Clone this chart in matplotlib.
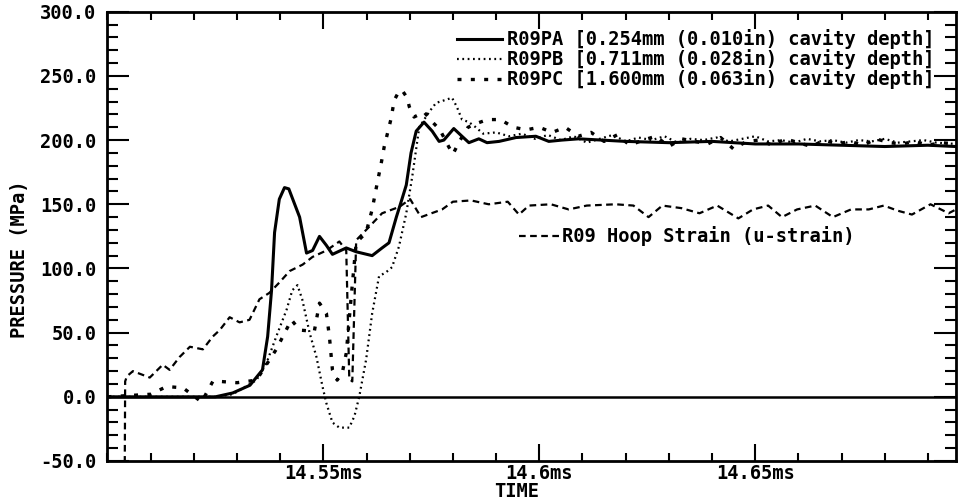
import matplotlib
matplotlib.use("Agg")
import matplotlib.pyplot as plt
from matplotlib.ticker import FixedLocator, MultipleLocator, FuncFormatter

# ---------------- data (time in ms, pressure in MPa) ----------------
pa_t = [14.500, 14.525, 14.529, 14.533, 14.5359, 14.5371, 14.5380, 14.5387, 14.5398,
        14.5410, 14.5420, 14.5445, 14.5461, 14.5475, 14.5491, 14.5507, 14.5521,
        14.5553, 14.5576, 14.5613, 14.5636, 14.5652, 14.5669, 14.5682, 14.5692,
        14.5703, 14.5715, 14.5733, 14.5752, 14.5768, 14.5779, 14.5802, 14.5821,
        14.5837, 14.5860, 14.5879, 14.5907, 14.5946, 14.5992, 14.6022, 14.6052,
        14.6091, 14.620, 14.630, 14.640, 14.650, 14.660, 14.670, 14.680, 14.690, 14.6965]
pa_v = [0, 0, 3, 9, 21, 47, 83, 128, 154,
        163, 162, 140, 112, 114, 125, 118, 111,
        116, 113, 110, 116, 120, 140, 154, 165,
        190, 207, 214, 207, 199, 200, 209, 203,
        198, 201, 198, 199, 202, 203, 199, 200,
        201, 199, 198, 199, 197, 197, 196, 195, 196, 195]

pb_t = [14.500, 14.525, 14.529, 14.5345, 14.5368, 14.5391, 14.5415, 14.5428, 14.5440,
        14.5451, 14.5468, 14.5484, 14.5498, 14.5507, 14.5521, 14.5537, 14.5560,
        14.5572, 14.5583, 14.5599, 14.5613, 14.5629, 14.5645, 14.5659, 14.5675,
        14.5692, 14.5706, 14.5722, 14.5745, 14.5761, 14.5780, 14.5798, 14.5809,
        14.5821, 14.5837, 14.5853, 14.5870, 14.5900, 14.5930, 14.5960, 14.5990,
        14.6020, 14.6050, 14.6080, 14.6110, 14.6140, 14.6170, 14.6200, 14.6230,
        14.6260, 14.6290, 14.6320, 14.6350, 14.6380, 14.6410, 14.6440, 14.6470,
        14.6500, 14.6530, 14.6560, 14.6590, 14.6620, 14.6650, 14.6680, 14.6710,
        14.6740, 14.6770, 14.6800, 14.6830, 14.6860, 14.6890, 14.6920, 14.6965]
pb_v = [0, 0, 2, 13, 26, 47, 68, 83, 87,
        76, 50, 31, 8, -5, -20, -24, -24,
        -15, 0, 29, 65, 94, 97, 101, 117,
        143, 172, 210, 222, 229, 231, 233, 226,
        216, 214, 210, 205, 206, 203, 205, 201,
        204, 200, 203, 198, 201, 204, 199, 202,
        200, 203, 198, 201, 200, 202, 199, 201,
        203, 199, 200, 198, 201, 199, 200, 198,
        200, 199, 201, 198, 199, 200, 198, 197]

pc_t = [14.500, 14.510, 14.5137, 14.5175, 14.5218, 14.5244, 14.5260, 14.5300,
        14.5345, 14.5391, 14.5426, 14.5445, 14.5479, 14.5491, 14.5507, 14.5514,
        14.5521, 14.5532, 14.5544, 14.5553, 14.5565, 14.5576, 14.5599, 14.5613,
        14.5625, 14.5634, 14.5641, 14.5657, 14.5664, 14.5675, 14.5682, 14.5694,
        14.5699, 14.5710, 14.5722, 14.5733, 14.5750, 14.5770, 14.5790, 14.5800,
        14.5815, 14.5835, 14.5855, 14.5880, 14.5910, 14.5940, 14.5970, 14.6000,
        14.6030, 14.6060, 14.6090, 14.6120, 14.6150, 14.6180, 14.6210, 14.6240,
        14.6270, 14.6300, 14.6330, 14.6360, 14.6390, 14.6420, 14.6450, 14.6480,
        14.6510, 14.6540, 14.6570, 14.6600, 14.6630, 14.6660, 14.6690, 14.6720,
        14.6750, 14.6780, 14.6810, 14.6840, 14.6870, 14.6900, 14.6930, 14.6965]
pc_v = [0, 2, 8, 7, -4, 12, 12, 11,
        13, 37, 60, 52, 51, 73, 65, 47,
        21, 13, 19, 34, 80, 120, 128, 146,
        167, 182, 195, 217, 231, 238, 239, 233,
        226, 218, 220, 222, 215, 208, 195, 189,
        199, 210, 213, 216, 216, 210, 208, 210,
        206, 210, 203, 206, 199, 204, 196, 200,
        203, 195, 201, 199, 197, 202, 193, 199,
        200, 196, 201, 198, 195, 200, 197, 199,
        196, 201, 198, 197, 199, 196, 198, 197]

hoop_t = [14.5040, 14.5041, 14.5045, 14.5059, 14.5098, 14.5128, 14.5144, 14.5167,
          14.5191, 14.5221, 14.5244, 14.5260, 14.5283, 14.5306, 14.5329, 14.5352,
          14.5375, 14.5398, 14.5422, 14.5452, 14.5475, 14.5507, 14.5537, 14.5553,
          14.5560, 14.5567, 14.5576, 14.5599, 14.5636, 14.5676, 14.5701, 14.5726,
          14.5775, 14.5800, 14.5842, 14.5883, 14.5927, 14.5953, 14.5976, 14.6027,
          14.6068, 14.6110, 14.6177, 14.6218, 14.6253, 14.6285, 14.6329, 14.6371,
          14.6412, 14.6461, 14.6495, 14.6530, 14.6562, 14.6597, 14.6639, 14.6680,
          14.6722, 14.6763, 14.6798, 14.6830, 14.6863, 14.6906, 14.6948, 14.6965]
hoop_v = [-60, 12, 16, 20, 15, 25, 21, 31,
          39, 37, 47, 52, 62, 58, 60, 76,
          81, 89, 98, 103, 109, 114, 121, 114,
          14, 12, 122, 130, 143, 148, 154, 140,
          146, 152, 153, 150, 152, 142, 149, 150,
          146, 149, 150, 149, 140, 149, 147, 143,
          149, 139, 146, 149, 140, 146, 149, 140,
          146, 146, 149, 145, 142, 150, 143, 146]

series_labels = ["R09PA [0.254mm (0.010in) cavity depth]",
                 "R09PB [0.711mm (0.028in) cavity depth]",
                 "R09PC [1.600mm (0.063in) cavity depth]"]
hoop_label = "R09 Hoop Strain (u-strain)"
x_major = [14.55, 14.60, 14.65]
x_major_labels = ["14.55ms", "14.6ms", "14.65ms"]

# ---------------- figure ----------------
FONT = ["DejaVu Sans Mono"]
plt.rcParams["font.family"] = FONT
plt.rcParams["font.weight"] = "bold"
FS = 13.5

fig = plt.figure(figsize=(9.68, 5.0), dpi=100)
ax = fig.add_axes([0.1110, 0.078, 0.8766, 0.8985])

ax.axhline(0, color="black", lw=1.8, zorder=1)
la, = ax.plot(pa_t, pa_v, color="black", lw=2.2, solid_joinstyle="round")
lb, = ax.plot(pb_t, pb_v, color="black", lw=1.6, linestyle=(0, (0.8, 1.6)))
lc, = ax.plot(pc_t, pc_v, color="black", lw=2.4, linestyle=(0, (1.2, 2.8)))
lh, = ax.plot(hoop_t, hoop_v, color="black", lw=1.6, linestyle=(0, (3.0, 2.0)))

ax.set_xlim(14.50, 14.6965)
ax.set_ylim(-50, 300)

ax.xaxis.set_major_locator(FixedLocator(x_major))
ax.set_xticklabels(x_major_labels)
ax.xaxis.set_minor_locator(MultipleLocator(0.01))
ax.yaxis.set_major_locator(MultipleLocator(50))
ax.yaxis.set_minor_locator(MultipleLocator(10))
ax.yaxis.set_major_formatter(FuncFormatter(lambda v, p: f"{v:.1f}"))

ax.tick_params(axis="both", which="both", direction="in", top=True, right=True,
               width=1.5, colors="black")
ax.tick_params(axis="x", which="major", length=12, pad=2, labelsize=FS)
ax.tick_params(axis="x", which="minor", length=6)
ax.tick_params(axis="y", which="major", length=16, pad=8, labelsize=FS)
ax.tick_params(axis="y", which="minor", length=8)
for s in ax.spines.values():
    s.set_linewidth(2)

ax.set_ylabel("PRESSURE (MPa)", fontsize=FS, fontweight="bold")
ax.yaxis.set_label_coords(-0.093, 0.45)
ax.set_xlabel("TIME", fontsize=FS, fontweight="bold")
ax.xaxis.set_label_coords(0.482, -0.047)

prop = {"family": FONT, "weight": "bold", "size": FS}
leg1 = ax.legend([la, lb, lc], series_labels, loc="upper right",
                 bbox_to_anchor=(0.975, 0.961), frameon=False,
                 handlelength=2.4, handletextpad=0.3, labelspacing=0.0,
                 borderpad=0, borderaxespad=0, prop=prop)
ax.add_artist(leg1)
ax.legend([lh], [hoop_label], loc="center left", bbox_to_anchor=(0.485, 0.50),
          frameon=False, handlelength=2.2, handletextpad=0.1, borderpad=0,
          borderaxespad=0, prop=prop)

fig.savefig("out.png", dpi=100)
